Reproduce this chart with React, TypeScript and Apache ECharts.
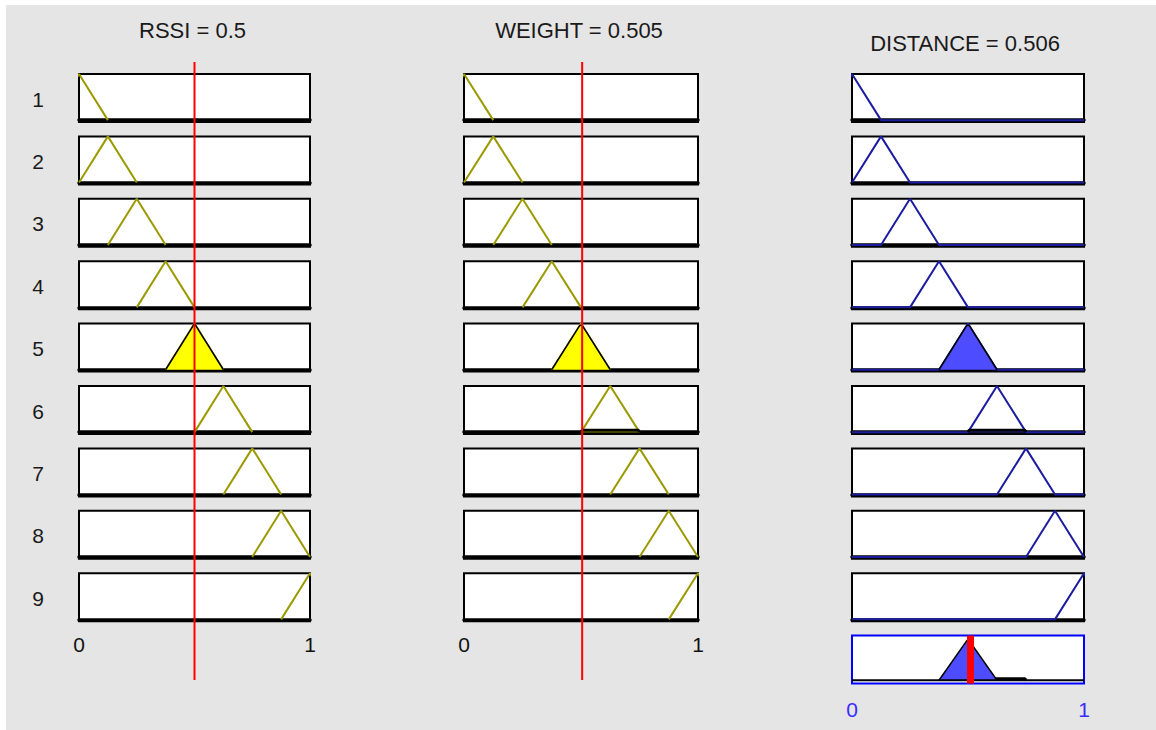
import React, { useEffect, useRef } from "react";
import * as echarts from "echarts";

// ---- data ----
const RULES = ["1", "2", "3", "4", "5", "6", "7", "8", "9"];
const MF_LEFT = [-0.125, 0, 0.125, 0.25, 0.375, 0.5, 0.625, 0.75, 0.875];
const MF_PEAK = [0, 0.125, 0.25, 0.375, 0.5, 0.625, 0.75, 0.875, 1];
const MF_RIGHT = [0.125, 0.25, 0.375, 0.5, 0.625, 0.75, 0.875, 1, 1.125];
const INPUT_NAMES = ["RSSI", "WEIGHT"];
const INPUT_VALUES = [0.5, 0.505];
const RSSI_DEGREE = [0, 0, 0, 0, 1, 0, 0, 0, 0];
const WEIGHT_DEGREE = [0, 0, 0, 0, 0.96, 0.04, 0, 0, 0];
const OUTPUT_NAME = "DISTANCE";
const OUTPUT_VALUE = 0.506;
const FIRING = [0, 0, 0, 0, 0.96, 0.04, 0, 0, 0];
const AXIS_TICKS = ["0", "1"];

// ---- layout / style ----
const FONT = '"Liberation Sans", Arial, sans-serif';
const COL_LEFT = [79, 464, 852];
const COL_WIDTH = [231, 234, 232];
const ROW_TOP0 = 74;
const ROW_STEP = 62.4;
const BOX_H = 48;
const OLIVE = "#9a9a00";
const MF_BLUE = "#1c1ca0";
const FILL_BLUE = "#4d4dff";

function clipped(i: number, d: number) {
  const l = MF_LEFT[i], p = MF_PEAK[i], r = MF_RIGHT[i];
  return [
    [l, 0],
    [l + (p - l) * d, d],
    [r - (r - p) * d, d],
    [r, 0],
  ];
}

function buildOption() {
  const grid: any[] = [];
  const xAxis: any[] = [];
  const yAxis: any[] = [];
  const series: any[] = [];
  const graphic: any[] = [];

  const addGrid = (
    left: number,
    top: number,
    width: number,
    height: number,
    o: { border?: string; show?: boolean; ymin: number; ymax: number; labels?: boolean; labelColor?: string; axisLine?: boolean; margin?: number }
  ) => {
    const idx = grid.length;
    grid.push({
      left,
      top,
      width,
      height,
      show: o.show !== false,
      backgroundColor: "#ffffff",
      borderColor: o.border || "#000000",
      borderWidth: 2,
    });
    xAxis.push({
      gridIndex: idx,
      type: "value",
      min: 0,
      max: 1,
      interval: 1,
      show: o.show !== false,
      axisLine: { show: !!o.axisLine, onZero: true, lineStyle: { color: "#000", width: 3.5 } },
      axisTick: { show: false },
      splitLine: { show: false },
      axisLabel: {
        show: !!o.labels,
        formatter: (v: number) => AXIS_TICKS[Math.round(v)],
        fontSize: 21,
        fontFamily: FONT,
        color: o.labelColor || "#111",
        margin: o.margin ?? 13,
      },
    });
    yAxis.push({ gridIndex: idx, type: "value", min: o.ymin, max: o.ymax, show: false });
    return idx;
  };

  const degrees = [RSSI_DEGREE, WEIGHT_DEGREE];

  // input columns
  for (let c = 0; c < 2; c++) {
    for (let r = 0; r < RULES.length; r++) {
      const g = addGrid(COL_LEFT[c], ROW_TOP0 + r * ROW_STEP, COL_WIDTH[c], BOX_H, {
        ymin: -0.04,
        ymax: 1,
        labels: r === RULES.length - 1,
        axisLine: true,
        margin: 13,
      });
      series.push({
        type: "line",
        xAxisIndex: g,
        yAxisIndex: g,
        data: [[MF_LEFT[r], 0], [MF_PEAK[r], 1], [MF_RIGHT[r], 0]],
        symbol: "none",
        lineStyle: { color: OLIVE, width: 2 },
        z: 3,
        silent: true,
      });
      const d = degrees[c][r];
      if (d > 0) {
        series.push({
          type: "line",
          xAxisIndex: g,
          yAxisIndex: g,
          data: clipped(r, d),
          symbol: "none",
          lineStyle: { color: "#000", width: d < 0.1 ? 3 : 1.5 },
          areaStyle: { color: "#ffff00", opacity: 1 },
          z: 4,
          silent: true,
        });
      }
    }
    // red input line across the column
    const ov = addGrid(COL_LEFT[c], 62, COL_WIDTH[c], 618, { show: false, ymin: 0, ymax: 1 });
    series.push({
      type: "line",
      xAxisIndex: ov,
      yAxisIndex: ov,
      data: [[INPUT_VALUES[c], 0], [INPUT_VALUES[c], 1]],
      symbol: "none",
      lineStyle: { color: "#ff0000", width: 2 },
      z: 10,
      silent: true,
    });
    graphic.push({
      type: "text",
      x: COL_LEFT[c] + COL_WIDTH[c] / 2 - 2,
      y: 30,
      style: {
        text: `${INPUT_NAMES[c]} = ${INPUT_VALUES[c]}`,
        fill: "#1a1a1a",
        font: `22px ${FONT}`,
        textAlign: "center",
        textVerticalAlign: "middle",
        verticalAlign: "middle",
      },
    });
  }

  // output column
  for (let r = 0; r < RULES.length; r++) {
    const g = addGrid(COL_LEFT[2], ROW_TOP0 + r * ROW_STEP, COL_WIDTH[2], BOX_H, {
      ymin: -0.04,
      ymax: 1,
      axisLine: true,
    });
    series.push({
      type: "line",
      xAxisIndex: g,
      yAxisIndex: g,
      data: [
        [Math.min(0, MF_LEFT[r]), 0],
        [MF_LEFT[r], 0],
        [MF_PEAK[r], 1],
        [MF_RIGHT[r], 0],
        [Math.max(1, MF_RIGHT[r]), 0],
      ],
      symbol: "none",
      lineStyle: { color: MF_BLUE, width: 2 },
      z: 3,
      silent: true,
    });
    if (FIRING[r] > 0) {
      series.push({
        type: "line",
        xAxisIndex: g,
        yAxisIndex: g,
        data: clipped(r, FIRING[r]),
        symbol: "none",
        lineStyle: { color: "#000", width: FIRING[r] < 0.1 ? 3 : 1.5 },
        areaStyle: { color: FILL_BLUE, opacity: 1 },
        z: 4,
        silent: true,
      });
    }
  }

  // aggregated output
  const ag = addGrid(COL_LEFT[2], ROW_TOP0 + RULES.length * ROW_STEP, COL_WIDTH[2], BOX_H, {
    border: "#0000ff",
    ymin: -0.08,
    ymax: 1.08,
    labels: true,
    labelColor: "#3a2cff",
    axisLine: false,
    margin: 15,
  });
  const order = RULES.map((_, i) => i)
    .filter((i) => FIRING[i] > 0)
    .sort((a, b) => FIRING[a] - FIRING[b]);
  order.forEach((i, k) => {
    series.push({
      type: "line",
      xAxisIndex: ag,
      yAxisIndex: ag,
      data: clipped(i, FIRING[i]),
      symbol: "none",
      lineStyle: { color: "#000", width: FIRING[i] < 0.1 ? 3 : 1.5 },
      areaStyle: { color: FILL_BLUE, opacity: 1 },
      z: 4 + k * 0.1,
      silent: true,
    });
  });
  series.push({
    type: "line",
    xAxisIndex: ag,
    yAxisIndex: ag,
    data: [[0, 0], [1, 0]],
    symbol: "none",
    lineStyle: { color: "#000", width: 2 },
    z: 5,
    silent: true,
    markLine: {
      silent: true,
      symbol: ["none", "none"],
      label: { show: false },
      lineStyle: { color: "#ff0000", width: 7, type: "solid" },
      data: [{ xAxis: OUTPUT_VALUE }],
      z: 6,
    },
  });

  graphic.push({
    type: "text",
    x: COL_LEFT[2] + COL_WIDTH[2] / 2 - 3,
    y: 43,
    style: {
      text: `${OUTPUT_NAME} = ${OUTPUT_VALUE}`,
      fill: "#1a1a1a",
      font: `22px ${FONT}`,
      textAlign: "center",
      textVerticalAlign: "middle",
      verticalAlign: "middle",
    },
  });

  RULES.forEach((lab, r) => {
    graphic.push({
      type: "text",
      x: 38,
      y: ROW_TOP0 + r * ROW_STEP + BOX_H / 2 + 1,
      style: {
        text: lab,
        fill: "#1a1a1a",
        font: `21px ${FONT}`,
        textAlign: "center",
        textVerticalAlign: "middle",
        verticalAlign: "middle",
      },
    });
  });

  return {
    animation: false,
    backgroundColor: "transparent",
    grid,
    xAxis,
    yAxis,
    series,
    graphic,
  };
}

export default function App() {
  const ref = useRef<HTMLDivElement>(null);
  useEffect(() => {
    document.body.style.margin = "0";
    if (!ref.current) return;
    const chart = echarts.init(ref.current, undefined, { renderer: "svg" });
    chart.setOption(buildOption() as any);
    return () => chart.dispose();
  }, []);
  return (
    <div style={{ position: "relative", width: 1156, height: 730, background: "#ffffff", overflow: "hidden" }}>
      <div style={{ position: "absolute", left: 6, top: 5, right: 0, bottom: 0, background: "#e5e5e5" }} />
      <div ref={ref} style={{ position: "absolute", left: 0, top: 0, width: 1156, height: 730 }} />
    </div>
  );
}
